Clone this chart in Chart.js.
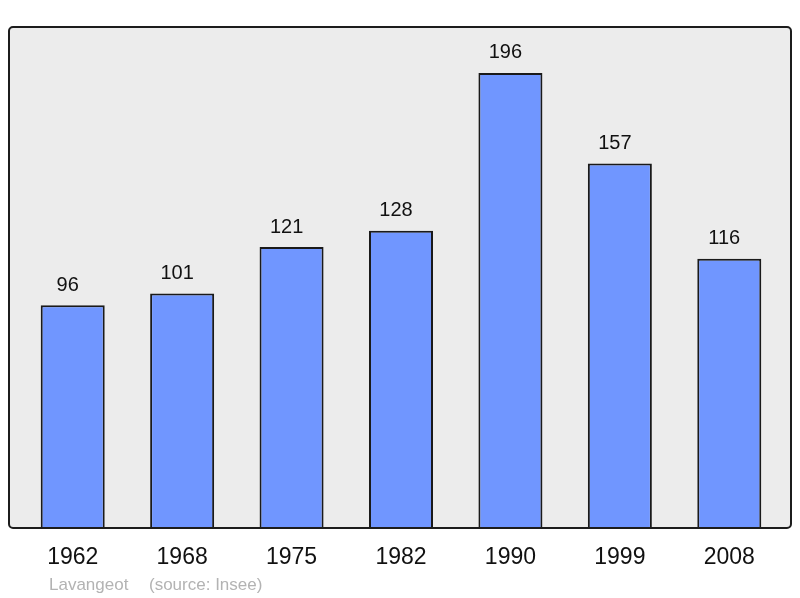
<!DOCTYPE html>
<html>
<head>
<meta charset="utf-8">
<script src="https://cdn.jsdelivr.net/npm/chart.js@4"></script>
<style>
  html, body { margin: 0; padding: 0; background: #fff; }
  #wrap { width: 800px; height: 598px; position: relative; }
</style>
</head>
<body>
<div id="wrap"><canvas id="myChart" width="800" height="598"></canvas></div>
<script>
// données
const years = ['1962', '1968', '1975', '1982', '1990', '1999', '2008'];
const population = [96, 101, 121, 128, 196, 157, 116];
const sourceText = ['Lavangeot', '(source: Insee)'];

const FONT = '"Liberation Sans", Arial, sans-serif';

// fond gris + cadre arrondi
const framePlugin = {
    id: 'frame',
    beforeDatasetsDraw(chart) {
        const a = chart.chartArea, ctx = chart.ctx;
        ctx.save();
        ctx.fillStyle = '#ececec';
        ctx.beginPath();
        ctx.roundRect(a.left - 9, a.top, a.right - a.left + 16, a.bottom - a.top, 4);
        ctx.fill();
        ctx.restore();
    },
    afterDatasetsDraw(chart) {
        const a = chart.chartArea, ctx = chart.ctx;
        ctx.save();
        ctx.strokeStyle = '#1c1c1c';
        ctx.lineWidth = 2;
        ctx.beginPath();
        ctx.roundRect(a.left - 9, a.top, a.right - a.left + 16, a.bottom - a.top, 4);
        ctx.stroke();

        // valeurs au-dessus des barres
        const meta = chart.getDatasetMeta(0);
        ctx.fillStyle = '#111';
        ctx.font = '20px ' + FONT;
        ctx.textAlign = 'center';
        ctx.textBaseline = 'middle';
        meta.data.forEach((bar, i) => {
            ctx.fillText(String(population[i]), bar.x - 5, bar.y - 20);
        });

        // source
        ctx.fillStyle = '#b3b3b3';
        ctx.font = '17px ' + FONT;
        ctx.textAlign = 'left';
        ctx.textBaseline = 'alphabetic';
        ctx.fillText(sourceText[0], 49, 590);
        ctx.fillText(sourceText[1], 149, 590);
        ctx.restore();
    }
};

const ctx = document.getElementById('myChart').getContext('2d');
const myChart = new Chart(ctx, {
    type: 'bar',
    data: {
        labels: years,
        datasets: [{
            data: population,
            backgroundColor: '#7096ff',
            borderColor: '#1a1a1a',
            borderWidth: 2,
            barPercentage: 0.585,
            categoryPercentage: 1
        }]
    },
    options: {
        responsive: false,
        animation: false,
        layout: { padding: { top: 27, left: 18, right: 16, bottom: 0 } },
        scales: {
            x: {
                grid: { display: false, drawTicks: false },
                border: { display: false },
                ticks: {
                    color: '#111',
                    font: { size: 23, family: FONT },
                    padding: 16,
                    maxRotation: 0
                },
                afterFit(scale) { scale.height = 70; }
            },
            y: {
                display: false,
                min: 0,
                max: 215.8
            }
        },
        plugins: {
            legend: { display: false },
            tooltip: { enabled: false }
        }
    },
    plugins: [framePlugin]
});
</script>
</body>
</html>
